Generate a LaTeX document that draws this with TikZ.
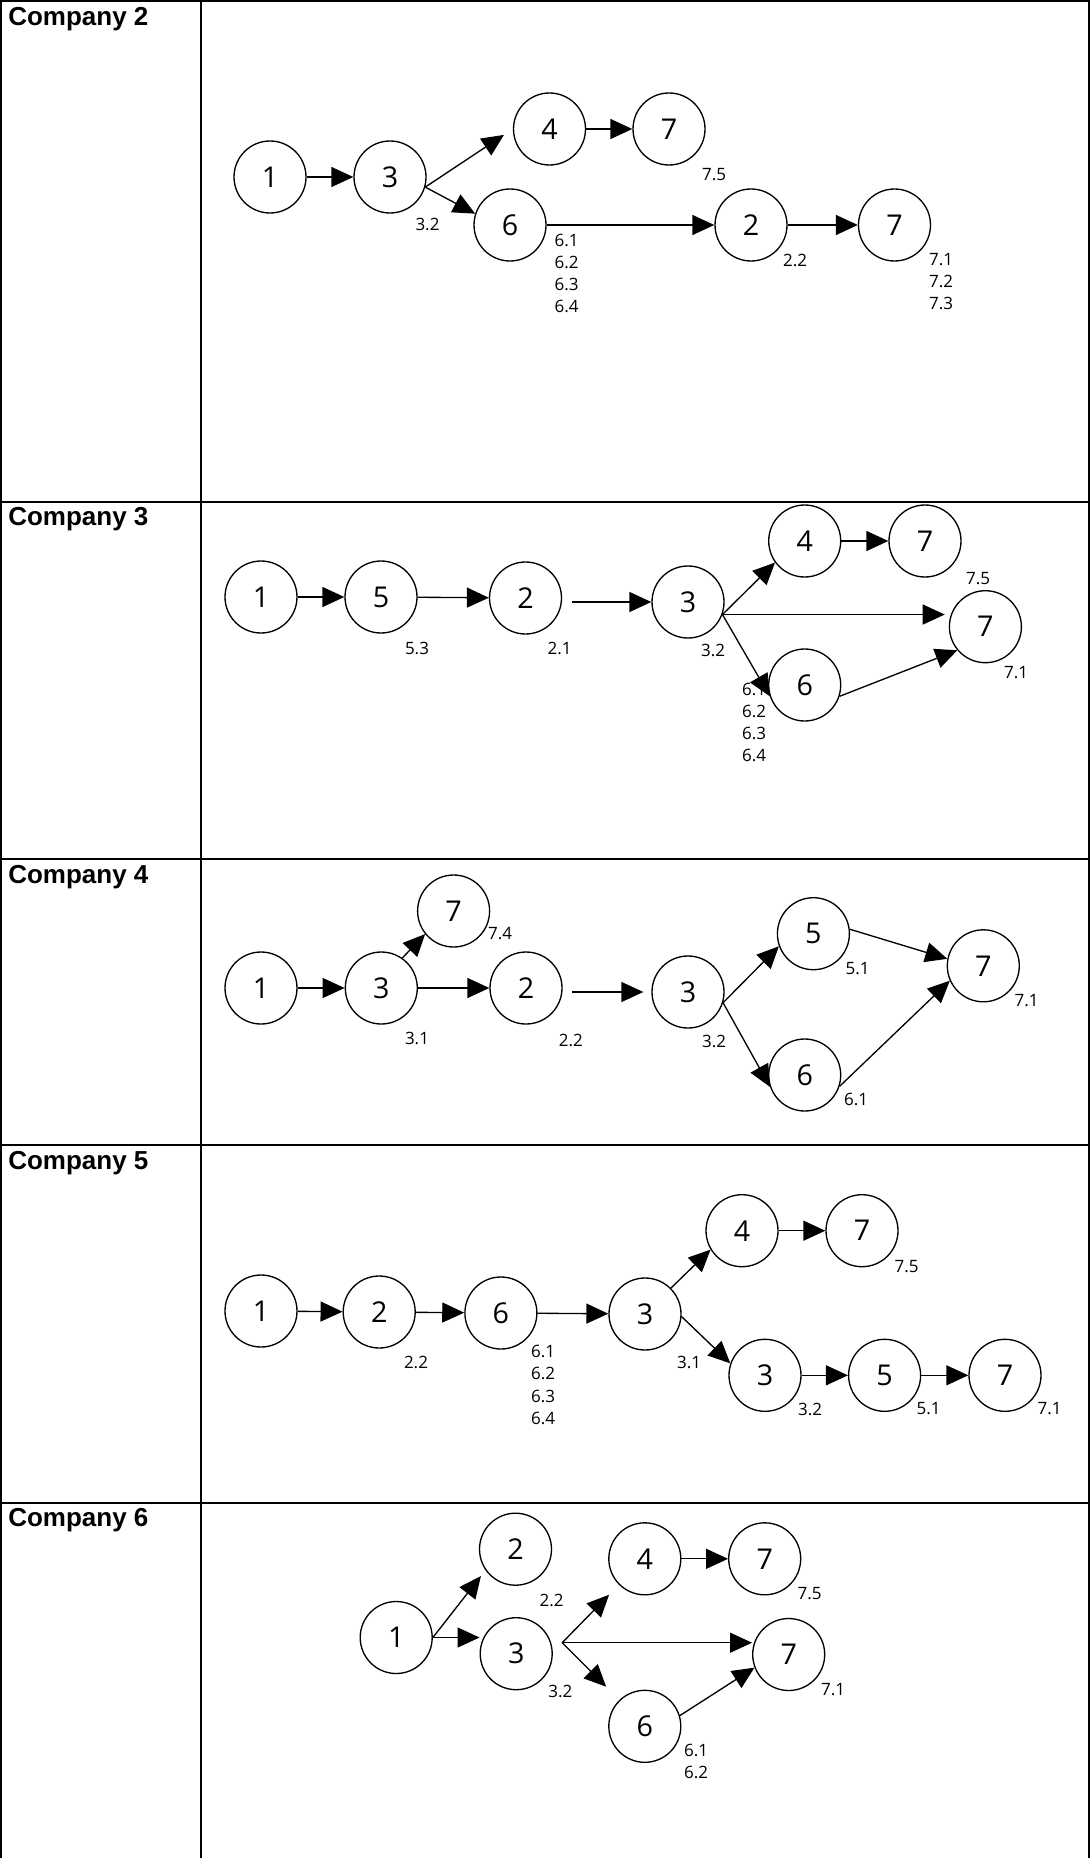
\documentclass[tikz,border=0pt]{standalone}
\usepackage{fontspec}
\setmainfont{Open Sans}
\newfontfamily\headfont{Liberation Sans}
\usetikzlibrary{arrows.meta}

\begin{document}
\begin{tikzpicture}[x=0.75pt,y=-0.75pt,
  grid/.style={line width=1.5pt},
  stage/.style={circle,draw,line width=1pt,minimum size=54pt,inner sep=0pt,
    font=\fontsize{21.5}{25}\selectfont},
  lbl/.style={inner sep=0pt,align=center,font=\fontsize{12.75}{16.7}\selectfont},
  head/.style={anchor=base west,inner sep=0pt,
    font=\headfont\bfseries\fontsize{19.5}{23}\selectfont},
  arr/.style={-{Triangle[length=16.5pt,width=15pt]},line width=1pt},
]
\useasboundingbox (0,0) rectangle (1090,1858);

% table frame
\draw[grid] (1,1858) -- (1,1) -- (1088.5,1) -- (1088.5,1858);
\draw[grid] (201,1) -- (201,1858);
\foreach \y in {502,858.5,1144.5,1502.5} \draw[grid] (1,\y) -- (1088.5,\y);

% row headings
\node[head] (h2) at (8,26) {Company 2};
\node[head] (h3) at (8,525) {Company 3};
\node[head] (h4) at (8,883) {Company 4};
\node[head] (h5) at (8,1169.5) {Company 5};
\node[head] (h6) at (8,1526) {Company 6};

% ---------- Company 2 ----------
\node[stage] (c2a) at (270,177) {1};
\node[stage] (c2b) at (390,177) {3};
\node[stage] (c2c) at (549.5,129) {4};
\node[stage] (c2d) at (669,129) {7};
\node[stage] (c2e) at (510,225) {6};
\node[stage] (c2f) at (751,225) {2};
\node[stage] (c2g) at (894.5,225) {7};
\node[lbl] (c2l1) at (714,175) {7.5};
\node[lbl] (c2l2) at (427.5,224) {3.2};
\node[lbl,anchor=north] (c2l3) at (566.5,233.5) {6.1\\6.2\\6.3\\6.4};
\node[lbl] (c2l4) at (795,260) {2.2};
\node[lbl,anchor=north] (c2l5) at (941,253) {7.1\\7.2\\7.3};
\draw[arr] (c2a) -- (c2b);
\draw[arr,shorten >=8pt] (c2b.-16) -- (c2c.west);
\draw[arr] (c2b.-16) -- (c2e.162);
\draw[arr] (c2c) -- (c2d);
\draw[arr] (c2e) -- (c2f);
\draw[arr] (c2f) -- (c2g);

% ---------- Company 3 ----------
\node[stage] (c3a) at (261,597) {1};
\node[stage] (c3b) at (381,597) {5};
\node[stage] (c3c) at (525.5,598) {2};
\node[stage] (c3d) at (688,602) {3};
\node[stage] (c3e) at (804.7,541) {4};
\node[stage] (c3f) at (925,541) {7};
\node[stage] (c3g) at (985.4,626.7) {7};
\node[stage] (c3h) at (804.7,685) {6};
\node[lbl] (c3l1) at (417,648.5) {5.3};
\node[lbl] (c3l2) at (559.7,648.5) {2.1};
\node[lbl] (c3l3) at (713,650) {3.2};
\node[lbl] (c3l4) at (978,578.5) {7.5};
\node[lbl] (c3l5) at (1016,673) {7.1};
\node[lbl,anchor=north] (c3l6) at (754,682.5) {6.1\\6.2\\6.3\\6.4};
\draw[arr] (c3a) -- (c3b);
\draw[arr] (c3b) -- (c3c);
\draw[arr,shorten <=7pt] (c3c.east |- c3d.west) -- (c3d.west);
\draw[arr] (c3d.-20) -- (c3e.216);
\draw[arr,shorten >=3pt] (c3d.-20) -- (c3d.-20 -| c3g.west);
\draw[arr] (c3d.-20) -- (c3h.198);
\draw[arr] (c3h.-18) -- (c3g.220);
\draw[arr] (c3e) -- (c3f);

% ---------- Company 4 ----------
\node[stage] (c4a) at (261,988) {1};
\node[stage] (c4b) at (381.3,988) {3};
\node[stage] (c4c) at (453.6,911) {7};
\node[stage] (c4d) at (526,988) {2};
\node[stage] (c4e) at (688,992) {3};
\node[stage] (c4f) at (813.4,933.7) {5};
\node[stage] (c4g) at (983.3,965.8) {7};
\node[stage] (c4h) at (804.7,1075) {6};
\node[lbl] (c4l1) at (500,934) {7.4};
\node[lbl] (c4l2) at (417,1038.5) {3.1};
\node[lbl] (c4l3) at (570.8,1040.5) {2.2};
\node[lbl] (c4l4) at (714,1041) {3.2};
\node[lbl] (c4l5) at (857.5,969) {5.1};
\node[lbl] (c4l6) at (1026.5,1001) {7.1};
\node[lbl] (c4l7) at (856,1099.5) {6.1};
\draw[arr] (c4a) -- (c4b);
\draw[arr] (c4b.55) -- (c4c.219);
\draw[arr] (c4b) -- (c4d);
\draw[arr,shorten <=7pt,shorten >=6pt] (c4d.east |- c4e.west) -- (c4e.west);
\draw[arr] (c4e.-17) -- (c4f.200);
\draw[arr] (c4e.-17) -- (c4h.199);
\draw[arr] (c4f.7) -- (c4g.169);
\draw[arr] (c4h.-18) -- (c4g.204);

% ---------- Company 5 ----------
\node[stage] (c5a) at (261,1311) {1};
\node[stage] (c5b) at (379.2,1312) {2};
\node[stage] (c5c) at (500.9,1313) {6};
\node[stage] (c5d) at (645,1314) {3};
\node[stage] (c5e) at (742,1230.7) {4};
\node[stage] (c5f) at (862,1230.7) {7};
\node[stage] (c5g) at (765,1375.3) {3};
\node[stage] (c5h) at (884.6,1375.3) {5};
\node[stage] (c5i) at (1005,1375.3) {7};
\node[lbl] (c5l1) at (416,1362.5) {2.2};
\node[lbl,anchor=north] (c5l2) at (543,1345) {6.1\\6.2\\6.3\\6.4};
\node[lbl] (c5l3) at (689,1362.5) {3.1};
\node[lbl] (c5l4) at (906.5,1266.5) {7.5};
\node[lbl] (c5l5) at (810,1409) {3.2};
\node[lbl] (c5l6) at (928.5,1409) {5.1};
\node[lbl] (c5l7) at (1049.7,1409) {7.1};
\draw[arr] (c5a) -- (c5b);
\draw[arr] (c5b) -- (c5c);
\draw[arr] (c5c) -- (c5d);
\draw[arr] (c5d.45) -- (c5e.211);
\draw[arr] (c5d.-4) -- (c5g.161);
\draw[arr] (c5e) -- (c5f);
\draw[arr] (c5g) -- (c5h);
\draw[arr] (c5h) -- (c5i);

% ---------- Company 6 ----------
\node[stage] (c6a) at (396.2,1637.5) {1};
\node[stage] (c6b) at (515.5,1549.2) {2};
\node[stage] (c6c) at (516.2,1653.7) {3};
\node[stage] (c6d) at (644.8,1558.8) {4};
\node[stage] (c6e) at (764.7,1558.8) {7};
\node[stage] (c6f) at (788.7,1654.5) {7};
\node[stage] (c6g) at (644.8,1726.3) {6};
\coordinate (c6fork) at ([xshift=7pt,yshift=8.25pt]c6c.east);
\node[lbl] (c6l1) at (551.6,1600) {2.2};
\node[lbl] (c6l2) at (560.3,1691) {3.2};
\node[lbl] (c6l3) at (809.5,1594) {7.5};
\node[lbl] (c6l4) at (833,1690) {7.1};
\node[lbl,anchor=north] (c6l5) at (696,1743.5) {6.1\\6.2};
\draw[arr,shorten >=5.5pt] (c6a.east) -- (c6b.215);
\draw[arr] (c6a.east) -- (c6a.east -| c6c.west);
\draw[arr,shorten >=10.5pt] (c6fork) -- (c6d.225);
\draw[arr] (c6fork) -- (c6fork -| c6f.west);
\draw[arr,shorten >=14pt] (c6fork) -- (c6g.134);
\draw[arr] (c6d) -- (c6e);
\draw[arr] (c6g.17) -- (c6f.201);
\end{tikzpicture}
\end{document}
